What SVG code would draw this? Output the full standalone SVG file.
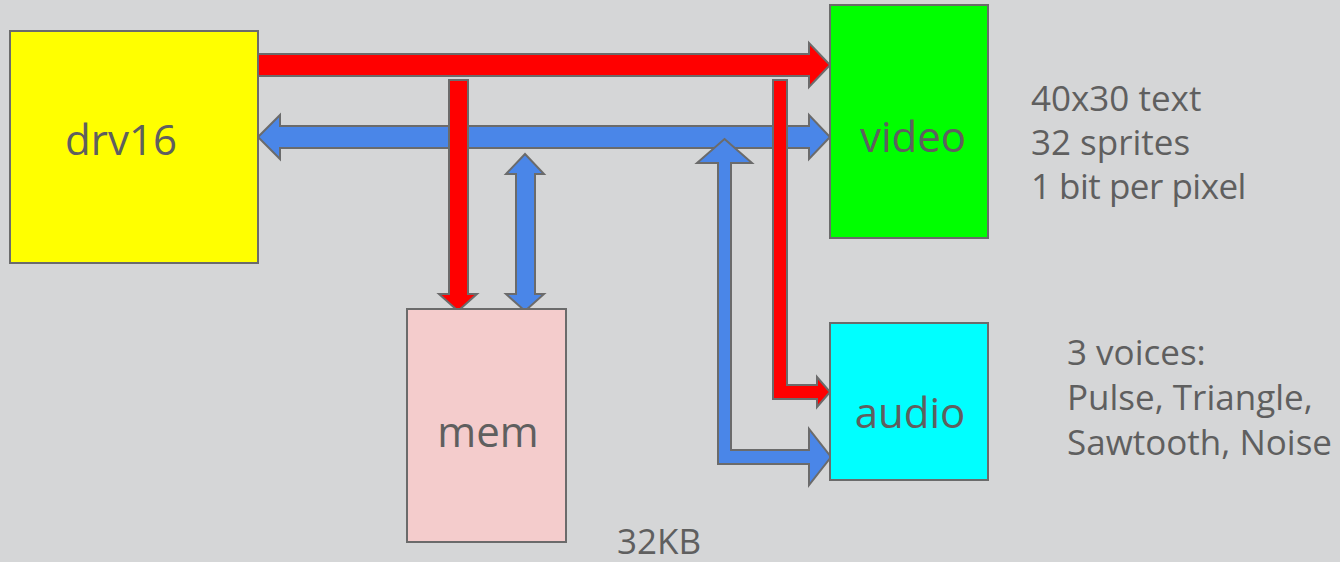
<svg xmlns="http://www.w3.org/2000/svg" width="1340" height="562" viewBox="0 0 1340 562">
<style>
.box{stroke:#6b6b6b;stroke-width:2}
.arr{stroke:#6b6b6b;stroke-width:2;stroke-linejoin:miter}
.red{fill:#ff0000}
.blue{fill:#4a86e8}
.lbl{font-family:"Open Sans","Liberation Sans",sans-serif;fill:#5f5f5f}
.big{font-size:42px;text-anchor:middle}
.side{font-size:35px}
</style>
<rect width="1340" height="562" fill="#d5d6d7"/>
<g id="connectors">
<polygon class="arr blue" points="258,137 280,115 280,126 809,126 809,115 830,137 809,159 809,148 280,148 280,159"/>
<polygon class="arr red" points="258,54 809,54 809,43 830,65 809,87 809,76 258,76"/>
<polygon class="arr blue" points="724.5,139 752,163 731,163 731,450 809,450 809,429 831,457 809,485 809,464 718,464 718,163 697,163"/>
<polygon class="arr blue" points="525,154 544,174 535,174 535,294 544,294 525,311 506,294 516,294 516,174 506,174"/>
<polygon class="arr red" points="449,80 468,80 468,294 477,294 458,311 439,294 449,294"/>
<polygon class="arr red" points="773,80 787,80 787,385 817,385 817,377 830,392 817,407 817,399 773,399"/>
</g>
<g id="drv16">
<rect class="box" x="10" y="31" width="248" height="232" fill="#ffff00"/>
<text class="lbl big" x="121" y="155">drv16</text>
</g>
<g id="video">
<rect class="box" x="830" y="5" width="158" height="233" fill="#00ff00"/>
<text class="lbl big" x="913" y="152">video</text>
</g>
<g id="audio">
<rect class="box" x="830" y="323" width="158" height="157" fill="#00ffff"/>
<text class="lbl big" x="910" y="428">audio</text>
</g>
<g id="mem">
<rect class="box" x="407" y="309" width="159" height="233" fill="#f4cccc"/>
<text class="lbl big" x="488" y="447">mem</text>
</g>
<g id="notes">
<text class="lbl side" x="1031" y="111">40x30 text</text>
<text class="lbl side" x="1031" y="155">32 sprites</text>
<text class="lbl side" x="1031" y="199" letter-spacing="-0.5">1 bit per pixel</text>
<text class="lbl side" x="1067" y="365">3 voices:</text>
<text class="lbl side" x="1067" y="410">Pulse, Triangle,</text>
<text class="lbl side" x="1067" y="455">Sawtooth, Noise</text>
<text class="lbl side" x="617" y="554">32KB</text>
</g>
</svg>
